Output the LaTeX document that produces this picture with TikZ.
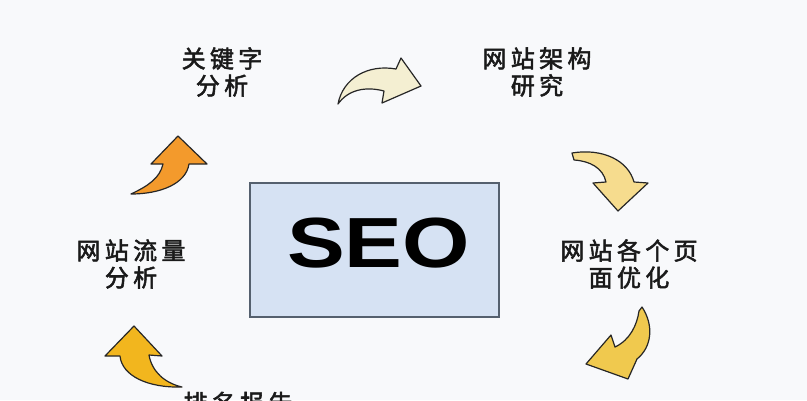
\documentclass[tikz,border=0pt]{standalone}
\usepackage{fontspec}
\setsansfont{Liberation Sans}
\newfontfamily\cjk[LetterSpace=18,FakeBold=2.2]{Noto Sans CJK SC}
\definecolor{bgc}{HTML}{F8F9FB}
\definecolor{boxfill}{HTML}{D6E2F3}
\definecolor{boxline}{HTML}{55606E}
\definecolor{txt}{HTML}{1A1A1A}
\definecolor{creamA}{HTML}{F4EFD2}
\definecolor{paleY}{HTML}{F6DC8E}
\definecolor{goldY}{HTML}{F0C94E}
\definecolor{goldO}{HTML}{F2B61E}
\definecolor{orangeA}{HTML}{F39A2C}
\tikzset{
  lbl/.style={font=\cjk\fontsize{24}{27}\selectfont, text=txt, align=center, inner sep=0pt},
  arr/.style={draw=black!85, line width=1.2pt, line join=round}
}
\begin{document}
\begin{tikzpicture}[x=1pt,y=-1pt]
\useasboundingbox (0,0) rectangle (807,400);
\clip (0,0) rectangle (807,400);
\fill[bgc] (0,0) rectangle (807,400);
% central box
\node[draw=boxline, line width=1.2pt, fill=boxfill, minimum width=249pt, minimum height=134pt, inner sep=0pt] (seo) at (374.5,250) {};
\node[font=\sffamily\bfseries\fontsize{71}{71}\selectfont, xscale=1.22, text=black, inner sep=0pt] (seotxt) at (378.5,243) {SEO};
% labels
\node[lbl] (kw) at (222,72) {关键字\\分析};
\node[lbl] (arch) at (537,72) {网站架构\\研究};
\node[lbl] (page) at (629,264) {网站各个页\\面优化};
\node[lbl] (flow) at (131,264) {网站流量\\分析};
\node[lbl] (rank) at (238,403) {排名报告};
% arrows
\draw[arr, fill=creamA] (338,104) .. controls (343,78) and (368,64) .. (396,69) -- (401,58) -- (421,86) -- (382,103) -- (384,91) .. controls (365,86) and (348,90) .. cycle;
\draw[arr, fill=paleY] (572,153) .. controls (602,148) and (628,160) .. (634,182) -- (648,183) -- (618,211) -- (593,183) -- (606,182) .. controls (603,168) and (590,161) .. (574,160) -- cycle;
\draw[arr, fill=goldY] (642,307) .. controls (654,325) and (652,347) .. (637,359) -- (628,379) -- (586,364) -- (611,335) -- (615,347) .. controls (630,340) and (637,325) .. (639,311) -- cycle;
\draw[arr, fill=goldO] (134,326) -- (162,356) -- (149,355) .. controls (152,372) and (165,383) .. (182,387) .. controls (148,388) and (122,376) .. (120,356) -- (105,356) -- cycle;
\draw[arr, fill=orangeA] (178,136) -- (207,164) -- (189,164) .. controls (186,184) and (160,194) .. (131,194) .. controls (148,186) and (160,178) .. (163,164) -- (151,164) -- cycle;
\end{tikzpicture}
\end{document}
